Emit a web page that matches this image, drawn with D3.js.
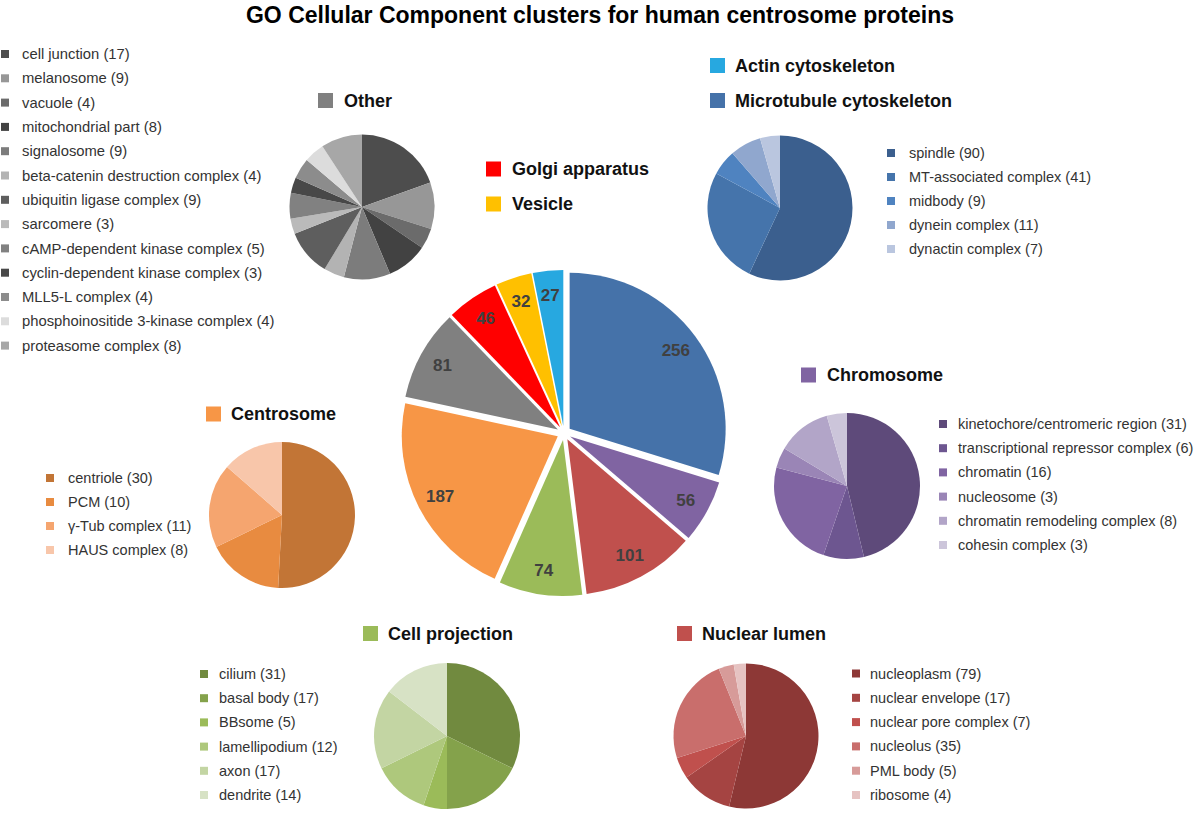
<!DOCTYPE html>
<html>
<head>
<meta charset="utf-8">
<script src="https://cdn.jsdelivr.net/npm/d3@7"></script>
<style>
  html, body { margin: 0; padding: 0; background: #fff; }
  svg { display: block; font-family: "Liberation Sans", Arial, sans-serif; }
</style>
</head>
<body>
<svg id="chart" width="1200" height="815"></svg>
<script>
// ---------------- DATA ----------------
const titleText = "GO Cellular Component clusters for human centrosome proteins";

const mainCategories = ["Microtubule cytoskeleton", "Chromosome", "Nuclear lumen", "Cell projection",
  "Centrosome", "Other", "Golgi apparatus", "Vesicle", "Actin cytoskeleton"];
const mainValues = [256, 56, 101, 74, 187, 81, 46, 32, 27];
const mainColors = ["#4572A9", "#8064A2", "#C0504D", "#9BBB59", "#F79646", "#808080", "#FF0000", "#FFC000", "#27A8E0"];

const otherNames = ["cell junction", "melanosome", "vacuole", "mitochondrial part", "signalosome",
  "beta-catenin destruction complex", "ubiquitin ligase complex", "sarcomere", "cAMP-dependent kinase complex",
  "cyclin-dependent kinase complex", "MLL5-L complex", "phosphoinositide 3-kinase complex", "proteasome complex"];
const otherValues = [17, 9, 4, 8, 9, 4, 9, 3, 5, 3, 4, 4, 8];
const otherColors = ["#4D4D4D", "#979797", "#6B6B6B", "#424242", "#7C7C7C", "#B3B3B3", "#5E5E5E",
  "#BABABA", "#818181", "#484848", "#8C8C8C", "#DCDCDC", "#A7A7A7"];

const microNames = ["spindle", "MT-associated complex", "midbody", "dynein complex", "dynactin complex"];
const microValues = [90, 41, 9, 11, 7];
const microColors = ["#3B5F8E", "#4574AB", "#4F83C0", "#90A7CE", "#BAC6DF"];

const chromoNames = ["kinetochore/centromeric region", "transcriptional repressor complex", "chromatin",
  "nucleosome", "chromatin remodeling complex", "cohesin complex"];
const chromoValues = [31, 6, 16, 3, 8, 3];
const chromoColors = ["#5E4A7A", "#6D5690", "#8064A2", "#9A85B6", "#B2A5C8", "#CCC5DA"];

const centroNames = ["centriole", "PCM", "\u03B3-Tub complex", "HAUS complex"];
const centroValues = [30, 10, 11, 8];
const centroColors = ["#C27536", "#E88B40", "#F5A56F", "#F8C6AA"];

const projNames = ["cilium", "basal body", "BBsome", "lamellipodium", "axon", "dendrite"];
const projValues = [31, 17, 5, 12, 17, 14];
const projColors = ["#718A3F", "#84A24B", "#9BBB59", "#AEC87C", "#C3D5A3", "#D7E2C5"];

const nucNames = ["nucleoplasm", "nuclear envelope", "nuclear pore complex", "nucleolus", "PML body", "ribosome"];
const nucValues = [79, 17, 7, 35, 5, 4];
const nucColors = ["#8D3836", "#A54442", "#C0504D", "#C96E6C", "#D79B99", "#E6C3C2"];

// ---------------- DRAWING ----------------
const svg = d3.select("#chart");

svg.append("text")
  .attr("x", 600).attr("y", 23)
  .attr("text-anchor", "middle")
  .style("font-size", "23px").style("font-weight", "bold").style("fill", "#000")
  .text(titleText);

const pie = d3.pie().sort(null).value(d => d);

// Main exploded pie
(function drawMain() {
  const cx = 564, cy = 433, r = 156, explode = 7, labelR = 132;
  const arc = d3.arc().innerRadius(0).outerRadius(r);
  const labelArc = d3.arc().innerRadius(labelR).outerRadius(labelR);
  const g = svg.append("g").attr("transform", `translate(${cx},${cy})`);
  const arcs = pie(mainValues);
  const slices = g.selectAll("g.slice").data(arcs).enter().append("g")
    .attr("class", "slice")
    .attr("transform", d => {
      const a = (d.startAngle + d.endAngle) / 2;
      return `translate(${explode * Math.sin(a)},${-explode * Math.cos(a)})`;
    });
  slices.append("path").attr("d", arc).attr("fill", (d, i) => mainColors[i]);
  slices.append("text")
    .attr("transform", d => `translate(${labelArc.centroid(d)})`)
    .attr("text-anchor", "middle").attr("dy", "0.35em")
    .style("font-size", "17px").style("font-weight", "bold").style("fill", "#404040")
    .text(d => d.data);
})();

function drawSubPie(values, colors, cx, cy, r) {
  const arc = d3.arc().innerRadius(0).outerRadius(r);
  svg.append("g").attr("transform", `translate(${cx},${cy})`)
    .selectAll("path").data(pie(values)).enter().append("path")
    .attr("d", arc).attr("fill", (d, i) => colors[i]);
}

function drawLegend(names, values, colors, sqX, txtX, y0, step, fs) {
  const g = svg.append("g");
  names.forEach((n, i) => {
    const y = y0 + i * step;
    g.append("rect").attr("x", sqX).attr("y", y - 4).attr("width", 8).attr("height", 8).attr("fill", colors[i]);
    g.append("text").attr("x", txtX).attr("y", y).attr("dy", "0.35em")
      .style("font-size", (fs || 14.5) + "px").style("fill", "#333")
      .text(`${n} (${values[i]})`);
  });
}

function drawHeader(idx, sqX, txtX, cyH) {
  svg.append("rect").attr("x", sqX).attr("y", cyH - 7.5).attr("width", 15).attr("height", 15)
    .attr("fill", mainColors[idx]);
  svg.append("text").attr("x", txtX).attr("y", cyH).attr("dy", "0.35em")
    .style("font-size", "18px").style("font-weight", "bold").style("fill", "#111")
    .text(mainCategories[idx]);
}

// Headers
drawHeader(5, 318, 344, 100.5);   // Other
drawHeader(8, 710, 735, 65.5);    // Actin
drawHeader(0, 710, 735, 100.5);   // Microtubule
drawHeader(6, 486, 512, 169);     // Golgi
drawHeader(7, 486, 512, 204);     // Vesicle
drawHeader(1, 801, 827, 375);     // Chromosome
drawHeader(4, 206, 231, 414);     // Centrosome
drawHeader(3, 363, 388, 633.5);   // Cell projection
drawHeader(2, 677, 702, 633.5);   // Nuclear lumen

// Sub pies
drawSubPie(otherValues, otherColors, 362, 207, 72.5);
drawSubPie(microValues, microColors, 780, 208, 72.5);
drawSubPie(chromoValues, chromoColors, 847, 486, 73);
drawSubPie(centroValues, centroColors, 282, 515, 73);
drawSubPie(projValues, projColors, 447, 736, 73);
drawSubPie(nucValues, nucColors, 746, 736, 72.5);

// Legends
drawLegend(otherNames, otherValues, otherColors, 1, 22, 54, 24.3, 14.8);
drawLegend(microNames, microValues, microColors, 887, 909, 153, 24);
drawLegend(chromoNames, chromoValues, chromoColors, 939, 958, 424, 24.2);
drawLegend(centroNames, centroValues, centroColors, 46, 68, 478, 24);
drawLegend(projNames, projValues, projColors, 200, 219, 674, 24.2);
drawLegend(nucNames, nucValues, nucColors, 852, 870, 673.5, 24.3);
</script>
</body>
</html>
